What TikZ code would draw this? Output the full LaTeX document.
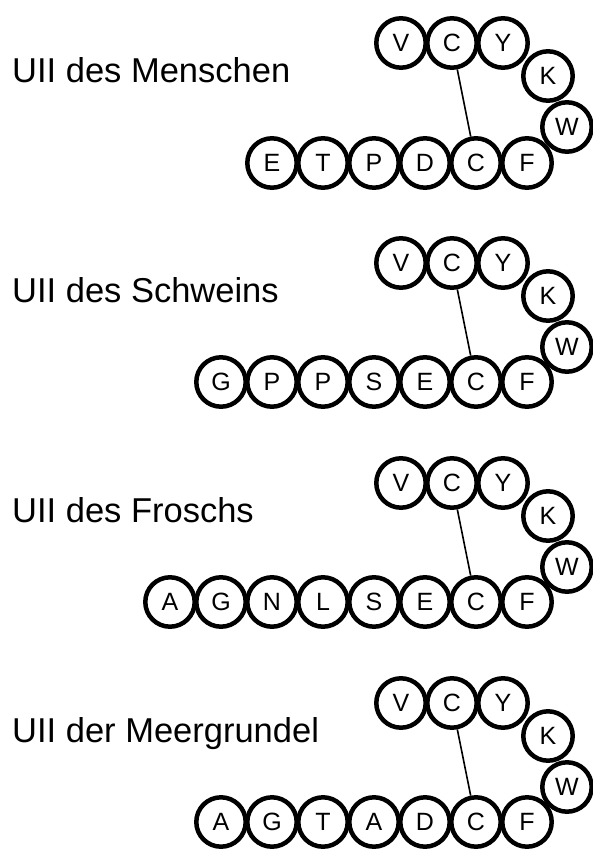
\documentclass[tikz,border=0pt]{standalone}
\usepackage{fontspec}
\setmainfont{Liberation Sans}
\begin{document}
\begin{tikzpicture}[x=1pt,y=-1pt,
  res/.style={circle,draw=black,line width=4.5pt,minimum size=49.4pt,inner sep=0pt,
    font=\fontsize{25}{25}\selectfont},
  bond/.style={draw=black,line width=1.6pt},
  lab/.style={anchor=base west,inner sep=0pt,font=\fontsize{34.5}{34.5}\selectfont}]
\useasboundingbox (0,0) rectangle (593,851);
\newcommand{\uiiloop}[2]{%
  \node[res] (#1V) at (401,#2) {V};
  \node[res] (#1C) at (452,#2) {C};
  \node[res] (#1Y) at (503,#2) {Y};
  \node[res] (#1K) at (548,#2+33) {K};
  \node[res] (#1W) at (567,#2+84) {W};
}
% group 1
\uiiloop{a}{43}
\foreach \l [count=\i] in {F,C,D,P,T,E}
  \node[res] (a\i) at ({527-51*(\i-1)},163) {\l};
\draw[bond] (aC) -- (a2);
\node[lab] (aL) at (12,82) {UII des Menschen};
% group 2
\uiiloop{b}{263}
\foreach \l [count=\i] in {F,C,E,S,P,P,G}
  \node[res] (b\i) at ({527-51*(\i-1)},382) {\l};
\draw[bond] (bC) -- (b2);
\node[lab] (bL) at (12,302) {UII des Schweins};
% group 3
\uiiloop{c}{483}
\foreach \l [count=\i] in {F,C,E,S,L,N,G,A}
  \node[res] (c\i) at ({527-51*(\i-1)},602) {\l};
\draw[bond] (cC) -- (c2);
\node[lab] (cL) at (12,522) {UII des Froschs};
% group 4
\uiiloop{d}{703}
\foreach \l [count=\i] in {F,C,D,A,T,G,A}
  \node[res] (d\i) at ({527-51*(\i-1)},822) {\l};
\draw[bond] (dC) -- (d2);
\node[lab] (dL) at (12,742) {UII der Meergrundel};
\end{tikzpicture}
\end{document}
